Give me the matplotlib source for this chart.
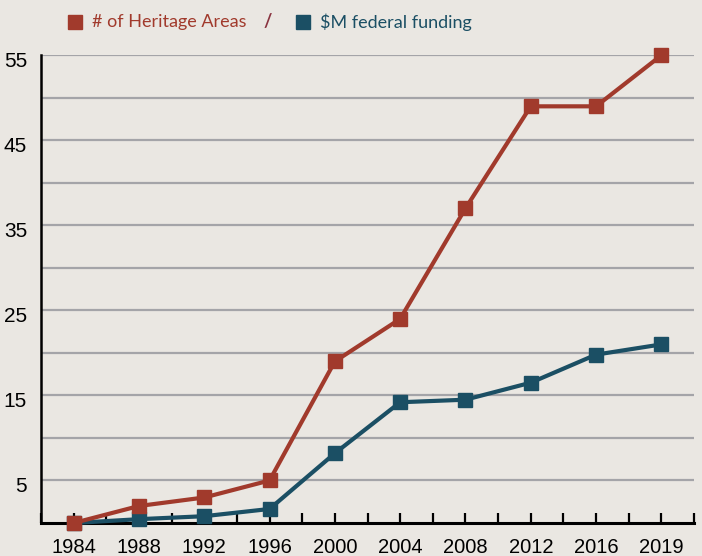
import matplotlib
matplotlib.use("Agg")
import matplotlib.pyplot as plt
import matplotlib.transforms as mtransforms
from matplotlib.lines import Line2D

years = ["1984", "1988", "1992", "1996", "2000", "2004", "2008", "2012", "2016", "2019"]
heritage_areas = [0, 2, 3, 5, 19, 24, 37, 49, 49, 55]
federal_funding = [0, 0.45, 0.8, 1.65, 8.2, 14.2, 14.5, 16.5, 19.8, 21.0]
y_labels = [5, 15, 25, 35, 45, 55]
y_grid_minor = [10, 20, 30, 40, 50]

RED = "#A13A2C"
TEAL = "#1B4F64"
BG = "#EAE7E2"
GRID = "#A4A4A8"

fig = plt.figure(figsize=(7.02, 5.56), dpi=100, facecolor=BG)
ax = fig.add_axes([41/702, 1-523/556, (694-41)/702, (523-55.3)/556])
ax.set_facecolor(BG)

x = list(range(len(years)))
ax.plot(x, federal_funding, color=TEAL, lw=3.0, marker="s", ms=10.5,
        mec=TEAL, mfc=TEAL, clip_on=False, zorder=4)
ax.plot(x, heritage_areas, color=RED, lw=3.0, marker="s", ms=10.5,
        mec=RED, mfc=RED, clip_on=False, zorder=5)

ax.set_xlim(-0.5, len(years) - 0.5)
ax.set_ylim(0, 55)

ax.set_xticks(x)
ax.set_xticklabels(years, fontsize=14.5, family="Liberation Sans")
ax.set_xticks([i - 0.5 for i in range(len(years) + 1)], minor=True)
ax.tick_params(axis="x", which="both", direction="in", length=7.5, width=1.6,
               color="black", pad=11)

ax.set_yticks(y_labels)
ax.set_yticklabels([str(v) for v in y_labels], fontsize=15, family="Liberation Sans")
ax.set_yticks(y_grid_minor, minor=True)
ax.tick_params(axis="y", which="both", length=0, pad=10)
offset = mtransforms.ScaledTranslation(0, -4/100, fig.dpi_scale_trans)
for lab in ax.get_yticklabels():
    lab.set_transform(lab.get_transform() + offset)

ax.grid(True, axis="y", which="both", color=GRID, lw=1.6, zorder=1)
ax.set_axisbelow(True)

for s in ["top", "right"]:
    ax.spines[s].set_visible(False)
ax.spines["left"].set_linewidth(1.8)
ax.spines["bottom"].set_linewidth(2.2)
ax.spines["left"].set_color("black")
ax.spines["bottom"].set_color("black")

# legend
LEG_FONT = "Lato"
LEG_SIZE = 13
ly = 1 - 22/556
fig.add_artist(Line2D([75/702], [ly], marker="s", ms=10.5, color=RED,
                      transform=fig.transFigure))
fig.text(92/702, ly, "# of Heritage Areas", color=RED, fontsize=LEG_SIZE,
         family=LEG_FONT, va="center", ha="left")
fig.text(268/702, ly, "/", color="#8A3440", fontsize=LEG_SIZE, fontweight="bold",
         family=LEG_FONT, va="center", ha="center")
fig.add_artist(Line2D([303/702], [ly], marker="s", ms=10.5, color=TEAL,
                      transform=fig.transFigure))
fig.text(320/702, ly, "$M federal funding", color=TEAL, fontsize=LEG_SIZE,
         family=LEG_FONT, va="center", ha="left")

fig.savefig("out.png", dpi=100, facecolor=BG)
